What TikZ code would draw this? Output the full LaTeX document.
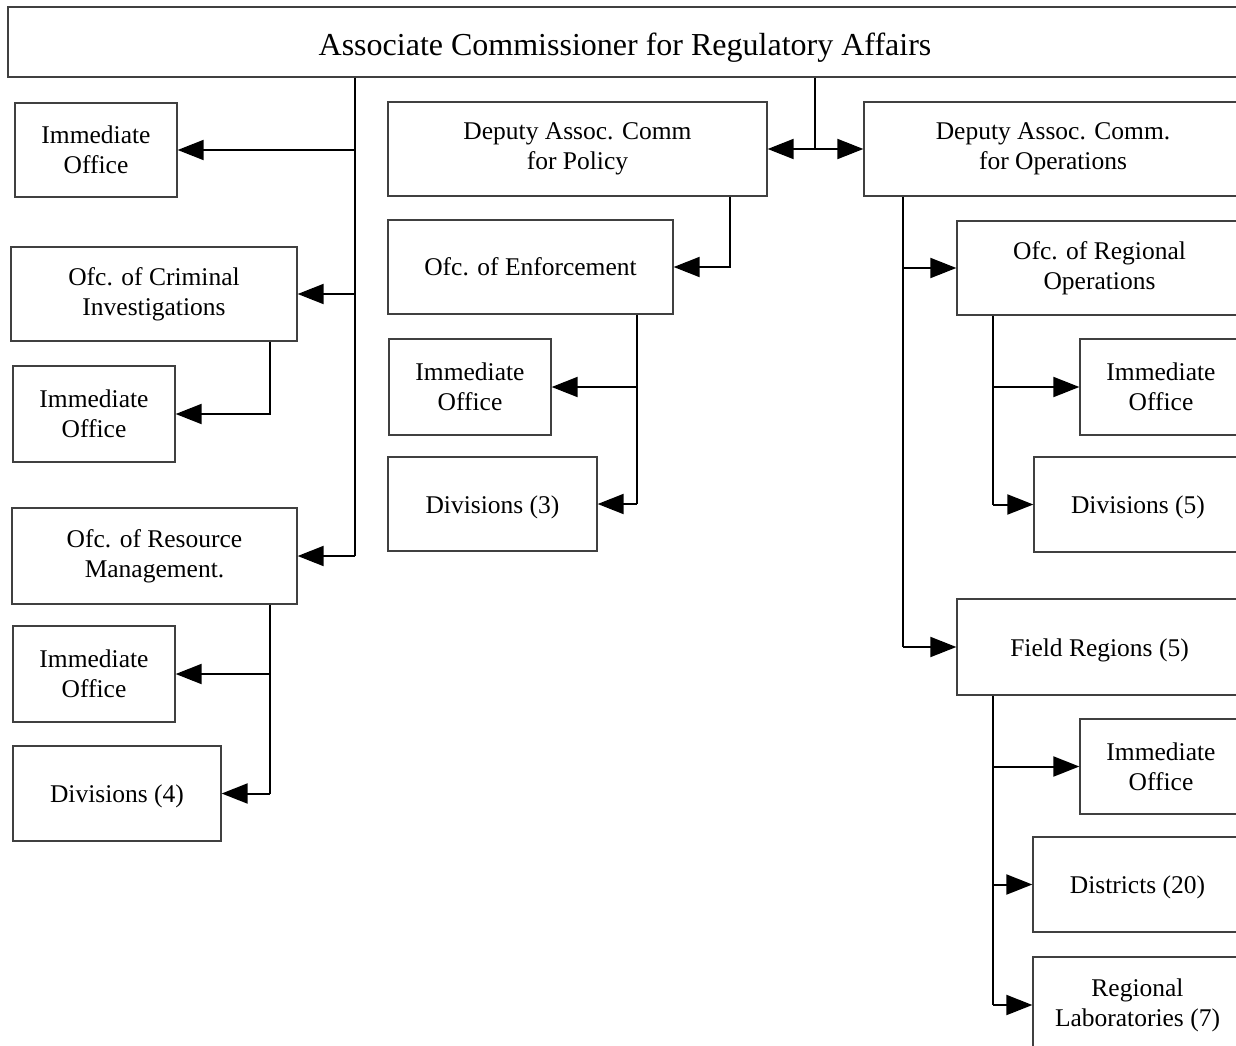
\documentclass[tikz,border=0pt]{standalone}
\usepackage{fontspec}
\setmainfont{Liberation Serif}
\usetikzlibrary{arrows.meta}
\newcommand{\lowstrut}{\rule{0pt}{24pt}}
\begin{document}
\begin{tikzpicture}[x=1pt,y=-1pt,
  box/.style={draw=black!75, line width=1.3pt, fill=white, align=center, inner sep=0pt,
    font=\fontsize{25.5}{30}\selectfont},
  conn/.style={line width=2pt, draw=black},
  arr/.style={conn, -{Triangle[length=26pt,width=20pt]}}]
\useasboundingbox (0,0) rectangle (1236,1046);
\clip (0,0) rectangle (1236,1046);
\fill[white] (0,0) rectangle (1236,1046);
% boxes
\node[box, minimum width=1234pt, minimum height=70pt, font=\fontsize{32}{38}\selectfont] (top) at (625,42) {\rule{0pt}{34pt}Associate Commissioner for Regulatory Affairs};
\node[box, minimum width=162pt, minimum height=94pt] (io1) at (96,150) {Immediate\\Office};
\node[box, minimum width=286pt, minimum height=94pt] (crim) at (154,294) {Ofc. of Criminal\\Investigations};
\node[box, minimum width=162pt, minimum height=96pt] (io2) at (94,414) {Immediate\\Office};
\node[box, minimum width=285pt, minimum height=96pt] (res) at (154.5,556) {Ofc. of Resource\\Management.};
\node[box, minimum width=162pt, minimum height=96pt] (io3) at (94,674) {Immediate\\Office};
\node[box, minimum width=208pt, minimum height=95pt] (div4) at (117,793.5) {\lowstrut Divisions (4)};
\node[box, minimum width=379pt, minimum height=94pt] (pol) at (577.5,149) {Deputy Assoc. Comm\\for Policy};
\node[box, minimum width=285pt, minimum height=94pt] (enf) at (530.5,267) {Ofc. of Enforcement};
\node[box, minimum width=162pt, minimum height=96pt] (iop) at (470,387) {Immediate\\Office};
\node[box, minimum width=209pt, minimum height=94pt] (div3) at (492.5,504) {\lowstrut Divisions (3)};
\node[box, minimum width=378pt, minimum height=94pt] (ops) at (1053,149) {Deputy Assoc. Comm.\\for Operations};
\node[box, minimum width=285pt, minimum height=94pt] (rop) at (1099.5,268) {Ofc. of Regional\\Operations};
\node[box, minimum width=162pt, minimum height=96pt] (ior) at (1161,387) {Immediate\\Office};
\node[box, minimum width=208pt, minimum height=95pt] (div5) at (1138,504.5) {\lowstrut Divisions (5)};
\node[box, minimum width=285pt, minimum height=96pt] (fr) at (1099.5,647) {\lowstrut Field Regions (5)};
\node[box, minimum width=162pt, minimum height=95pt] (iof) at (1161,766.5) {Immediate\\Office};
\node[box, minimum width=209pt, minimum height=95pt] (dist) at (1137.5,884.5) {\lowstrut Districts (20)};
\node[box, minimum width=209pt, minimum height=96pt] (lab) at (1137.5,1005) {Regional\\Laboratories (7)};
% trunk coordinates
\coordinate (xL) at (355,0);
\coordinate (xC) at (270,0);
\coordinate (xM) at (815,0);
\coordinate (xP) at (730,0);
\coordinate (xE) at (637,0);
\coordinate (xO) at (903,0);
\coordinate (xR) at (993,0);
% left trunk
\draw[conn] (top.south -| xL) -- (res.east -| xL);
\draw[arr] (io1.east -| xL) -- (io1.east);
\draw[arr] (crim.east -| xL) -- (crim.east);
\draw[arr] (res.east -| xL) -- (res.east);
\draw[arr] (crim.south -| xC) |- (io2.east);
\draw[conn] (res.south -| xC) -- (div4.east -| xC);
\draw[arr] (io3.east -| xC) -- (io3.east);
\draw[arr] (div4.east -| xC) -- (div4.east);
% middle
\draw[conn] (top.south -| xM) -- (pol.east -| xM);
\draw[arr] (pol.east -| xM) -- (pol.east);
\draw[arr] (pol.east -| xM) -- (ops.west);
\draw[arr] (pol.south -| xP) |- (enf.east);
\draw[conn] (enf.south -| xE) -- (div3.east -| xE);
\draw[arr] (iop.east -| xE) -- (iop.east);
\draw[arr] (div3.east -| xE) -- (div3.east);
% right
\draw[conn] (ops.south -| xO) -- (fr.west -| xO);
\draw[arr] (rop.west -| xO) -- (rop.west);
\draw[arr] (fr.west -| xO) -- (fr.west);
\draw[conn] (rop.south -| xR) -- (div5.west -| xR);
\draw[arr] (ior.west -| xR) -- (ior.west);
\draw[arr] (div5.west -| xR) -- (div5.west);
\draw[conn] (fr.south -| xR) -- (lab.west -| xR);
\draw[arr] (iof.west -| xR) -- (iof.west);
\draw[arr] (dist.west -| xR) -- (dist.west);
\draw[arr] (lab.west -| xR) -- (lab.west);
\end{tikzpicture}
\end{document}
